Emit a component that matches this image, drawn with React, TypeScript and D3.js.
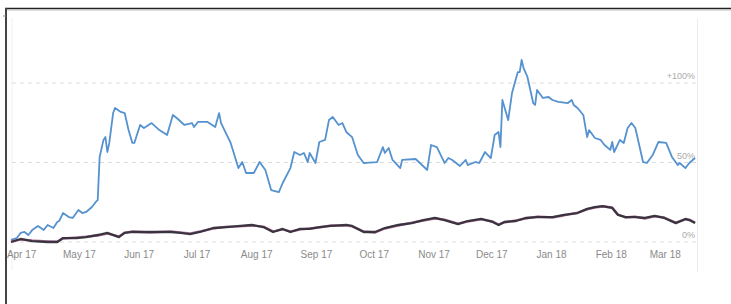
import React from "react";
import * as d3 from "d3";

// day offsets from 27 Mar 2017, value in % change
const blueDays = [0, 3, 5, 7, 9, 11, 14, 17, 19, 22, 24, 25, 27, 30, 32, 35, 37, 39, 42, 44, 45, 46, 48, 49, 50, 51, 53, 54, 57, 59, 61, 63, 64, 67, 69, 73, 77, 81, 84, 86, 90, 94, 95, 97, 102, 106, 108, 109, 114, 118, 120, 122, 126, 129, 132, 135, 139, 141, 145, 147, 150, 152, 154, 155, 158, 160, 163, 165, 167, 170, 172, 174, 177, 180, 183, 184, 190, 193, 194, 196, 198, 202, 203, 210, 216, 218, 221, 225, 227, 229, 233, 236, 237, 241, 243, 246, 249, 251, 253, 254, 255, 258, 260, 263, 264, 265, 266, 268, 271, 272, 273, 276, 279, 281, 284, 289, 291, 292, 294, 297, 299, 300, 303, 306, 308, 311, 312, 313, 316, 318, 320, 322, 324, 328, 330, 333, 336, 340, 343, 346, 347, 350, 352, 355];
const blueVals = [1.3, 2.5, 5.7, 6.3, 4.4, 7.5, 10.1, 7.5, 10.7, 8.8, 12.6, 13.2, 18.2, 15.7, 15.1, 20.1, 18.2, 18.9, 22.0, 25.2, 26.4, 53.5, 64.2, 66.0, 56.6, 62.3, 81.1, 84.3, 81.8, 81.1, 70.4, 62.3, 62.3, 73.6, 71.7, 74.8, 70.4, 67.3, 79.9, 78.0, 73.6, 74.8, 72.3, 75.5, 75.5, 72.3, 81.1, 74.8, 62.3, 46.5, 50.3, 43.4, 43.4, 50.3, 45.3, 32.7, 31.4, 37.1, 46.5, 56.6, 54.7, 56.0, 50.3, 56.0, 49.7, 62.9, 64.2, 76.7, 78.6, 73.6, 74.8, 69.2, 66.0, 54.7, 49.7, 49.7, 50.3, 59.7, 56.0, 59.1, 51.6, 46.5, 51.6, 52.2, 45.3, 61.0, 59.7, 49.7, 52.8, 51.6, 47.8, 51.6, 48.4, 50.3, 49.7, 56.6, 52.8, 67.3, 69.2, 59.7, 89.3, 76.7, 93.7, 106.9, 106.9, 114.5, 109.4, 103.8, 87.4, 86.2, 95.6, 90.6, 91.2, 89.3, 88.1, 87.4, 89.3, 86.2, 84.3, 79.9, 66.0, 70.4, 65.4, 64.2, 61.0, 57.9, 62.9, 56.6, 64.2, 62.3, 71.7, 74.8, 71.7, 50.3, 49.7, 54.7, 62.9, 62.3, 53.5, 48.4, 49.7, 46.5, 49.7, 52.8];

const darkDays = [0, 5, 11, 19, 24, 27, 34, 39, 45, 50, 56, 59, 63, 72, 83, 88, 93, 98, 105, 112, 119, 125, 131, 136, 141, 145, 150, 155, 160, 166, 174, 177, 183, 189, 194, 201, 208, 214, 220, 225, 232, 237, 244, 250, 253, 256, 262, 267, 273, 281, 287, 294, 299, 303, 307, 312, 315, 319, 324, 329, 334, 339, 345, 350, 352, 355];
const darkVals = [0, 1.9, 0.6, 0, 0, 2.5, 2.5, 3.1, 4.4, 5.7, 3.1, 5.7, 6.3, 6.3, 6.3, 5.7, 5.0, 6.3, 8.8, 9.4, 10.1, 10.7, 9.4, 6.3, 8.2, 6.3, 8.2, 8.2, 9.4, 10.1, 10.7, 10.1, 6.3, 6.3, 8.8, 10.7, 11.9, 13.8, 15.1, 13.8, 11.3, 13.2, 14.5, 12.6, 10.7, 12.6, 13.2, 15.1, 15.7, 15.7, 17.0, 18.2, 20.8, 22.0, 22.6, 21.4, 17.0, 15.7, 15.7, 15.1, 16.4, 15.1, 11.9, 14.5, 13.8, 11.9];
const pinkVals = [0.3, 1.5, 0.9, 0.4, 0.2, 2.2, 2.9, 3.4, 4.1, 5.3, 3.5, 5.9, 6.6, 6.0, 6.7, 6.0, 5.4, 6.6, 8.5, 9.7, 9.8, 10.4, 9.7, 6.7, 7.9, 6.6, 7.8, 8.5, 9.1, 10.4, 10.3, 9.8, 6.7, 6.0, 8.5, 10.4, 12.2, 13.5, 14.8, 14.1, 11.6, 12.9, 14.2, 12.9, 11.0, 12.3, 13.5, 14.8, 16.0, 15.4, 16.7, 18.5, 20.5, 21.7, 22.3, 21.7, 17.3, 15.4, 16.0, 14.8, 16.1, 15.4, 12.2, 14.2, 14.1, 12.2];

const yTicks = [0, 50, 100];
const yTickLabels = ["0%", "50%", "+100%"];

const startDate = new Date(2017, 2, 27);
const endDate = new Date(2018, 2, 18);

export default function App() {
  const x = d3.scaleTime().domain([startDate, endDate]).range([11, 697]);
  const y = d3.scaleLinear().domain([0, 100]).range([242, 83]);

  const toDate = (d: number) => d3.timeDay.offset(startDate, d);

  const line = d3
    .line<[number, number]>()
    .x((d) => x(toDate(d[0])))
    .y((d) => y(d[1]))
    .curve(d3.curveLinear);

  const blue = blueDays.map((d, i) => [d, blueVals[i]] as [number, number]);
  const dark = darkDays.map((d, i) => [d, darkVals[i]] as [number, number]);
  const pink = darkDays.map((d, i) => [d, pinkVals[i]] as [number, number]);

  const months = d3.timeMonth.range(new Date(2017, 3, 1), new Date(2018, 2, 2));
  const fmt = d3.timeFormat("%b %y");

  return (
    <svg
      width={731}
      height={304}
      style={{ position: "absolute", left: 0, top: 0, background: "#fff" }}
      fontFamily="Liberation Sans, Arial, sans-serif"
    >
      {/* frame */}
      <line x1={5} x2={731} y1={8.5} y2={8.5} stroke="#222" strokeWidth={1.5} />
      <line x1={7} x2={731} y1={10} y2={10} stroke="#bbb" strokeWidth={1} />
      <line x1={6} x2={6} y1={8} y2={304} stroke="#444" strokeWidth={2} />
      <line x1={3} x2={6} y1={16} y2={16} stroke="#888" strokeWidth={1} />
      <line x1={12} x2={12} y1={18} y2={270} stroke="#f0f0f0" strokeWidth={1} />
      <line x1={697.5} x2={697.5} y1={18} y2={272} stroke="#ececec" strokeWidth={1} />

      {/* gridlines */}
      {yTicks.map((t, i) => (
        <g key={t}>
          <line
            x1={12}
            x2={697}
            y1={y(t)}
            y2={y(t)}
            stroke="#dcdcdc"
            strokeDasharray="4,4"
          />
          <text
            x={695}
            y={y(t) - 4}
            textAnchor="end"
            fontSize={9}
            fill="#aaa"
          >
            {yTickLabels[i]}
          </text>
        </g>
      ))}

      {/* x labels */}
      {months.map((m) => (
        <text
          key={m.getTime()}
          x={x(m) + 1}
          y={258}
          textAnchor="middle"
          fontSize={10}
          fill="#8a8a8a"
        >
          {fmt(m)}
        </text>
      ))}

      <path d={line(blue) || ""} fill="none" stroke="#5592cf" strokeWidth={1.8} strokeLinejoin="round" />
      <path d={line(pink) || ""} fill="none" stroke="#b77fa6" strokeWidth={2.4} strokeLinejoin="round" />
      <path d={line(dark) || ""} fill="none" stroke="#2c2a33" strokeWidth={2.3} strokeLinejoin="round" opacity={0.9} />
    </svg>
  );
}
